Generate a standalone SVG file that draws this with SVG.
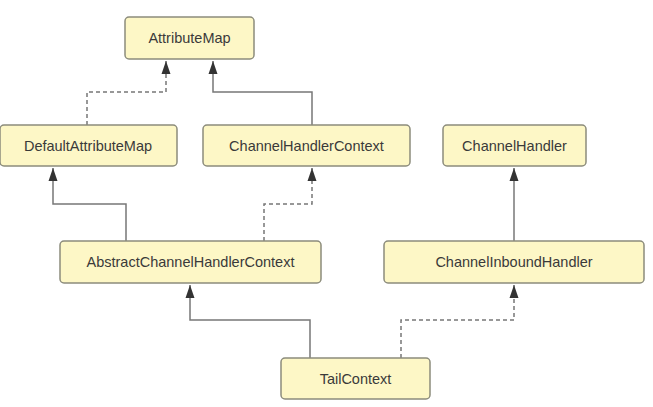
<svg xmlns="http://www.w3.org/2000/svg" width="653" height="407" viewBox="0 0 653 407">
<defs>
<style>
.n rect{fill:#fdf7c6;stroke:#8c8c7c;stroke-width:1.5}
.n text{font-family:"Liberation Sans",Arial,sans-serif;font-size:14.5px;fill:#3a3a3a;text-anchor:middle}
.c path{fill:none;stroke:#777777;stroke-width:1.5}
.c path.d{stroke-dasharray:4,3}
</style>
<marker id="ah" viewBox="0 0 13 10" refX="13" refY="5" markerWidth="13" markerHeight="10" markerUnits="userSpaceOnUse" orient="auto">
<path d="M13,5 L0,0.5 L0,9.5 Z" fill="#333333"/>
</marker>
</defs>
<rect width="653" height="407" fill="#ffffff"/>
<g id="connectors" class="c">
<path class="d" d="M87,125 V92 H166 V61" marker-end="url(#ah)"/>
<path d="M312,125 V92 H213 V61" marker-end="url(#ah)"/>
<path d="M126,241 V204 H53 V168" marker-end="url(#ah)"/>
<path class="d" d="M264,241 V204 H312 V168" marker-end="url(#ah)"/>
<path d="M514,241 V168" marker-end="url(#ah)"/>
<path d="M310,358 V320 H190 V285" marker-end="url(#ah)"/>
<path class="d" d="M401,358 V320 H514 V285" marker-end="url(#ah)"/>
</g>
<g id="AttributeMap" class="n"><rect x="125" y="17" width="129" height="42" rx="4"/><text x="189.5" y="43">AttributeMap</text></g>
<g id="DefaultAttributeMap" class="n"><rect x="0" y="125" width="177" height="41" rx="4"/><text x="88" y="151">DefaultAttributeMap</text></g>
<g id="ChannelHandlerContext" class="n"><rect x="203" y="125" width="207" height="41" rx="4"/><text x="306.5" y="151">ChannelHandlerContext</text></g>
<g id="ChannelHandler" class="n"><rect x="443" y="125" width="143" height="41" rx="4"/><text x="514.5" y="151">ChannelHandler</text></g>
<g id="AbstractChannelHandlerContext" class="n"><rect x="60" y="241" width="261" height="42" rx="4"/><text x="190.5" y="267">AbstractChannelHandlerContext</text></g>
<g id="ChannelInboundHandler" class="n"><rect x="384" y="241" width="260" height="42" rx="4"/><text x="514" y="267">ChannelInboundHandler</text></g>
<g id="TailContext" class="n"><rect x="281" y="358" width="149" height="41" rx="4"/><text x="355.5" y="384">TailContext</text></g>
</svg>
